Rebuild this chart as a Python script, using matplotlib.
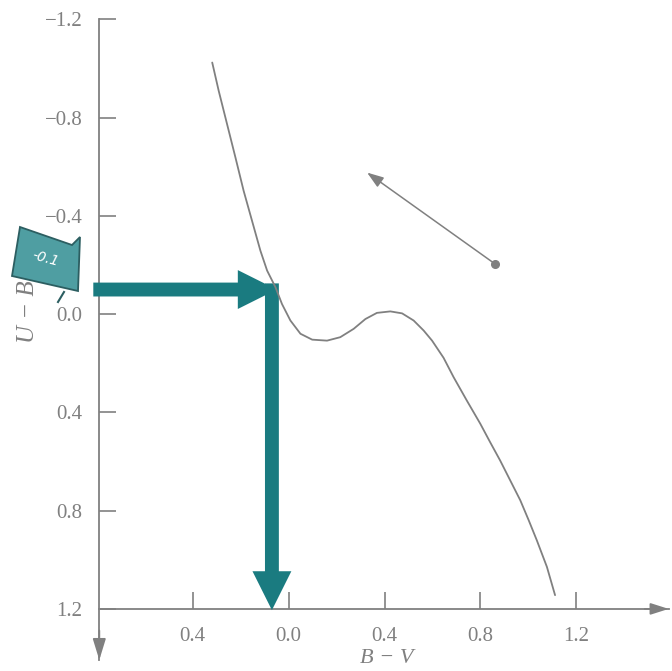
import matplotlib
matplotlib.use("Agg")
import matplotlib.pyplot as plt
from matplotlib.patches import FancyArrowPatch, Polygon, ArrowStyle

# ---- data ----
bv_curve = [-0.319, -0.292, -0.257, -0.222, -0.188, -0.153, -0.118, -0.090, -0.055,
            -0.028, 0.007, 0.049, 0.098, 0.160, 0.215, 0.271, 0.320, 0.368, 0.424,
            0.473, 0.521, 0.563, 0.598, 0.646, 0.688, 0.743, 0.799, 0.840, 0.882,
            0.924, 0.966, 1.001, 1.035, 1.077, 1.111]
ub_curve = [-1.024, -0.909, -0.773, -0.637, -0.502, -0.380, -0.258, -0.177, -0.109,
            -0.041, 0.026, 0.080, 0.104, 0.108, 0.094, 0.060, 0.020, -0.005, -0.011,
            -0.003, 0.026, 0.067, 0.108, 0.178, 0.257, 0.352, 0.446, 0.521, 0.596,
            0.677, 0.758, 0.839, 0.921, 1.029, 1.144]

redden_start = (0.861, -0.204)
redden_end = (0.327, -0.576)

ub_read = -0.1      # horizontal teal arrow level
bv_read = -0.07     # vertical teal arrow position
flag_text = "-0.1"

xticks = [-0.4, 0.0, 0.4, 0.8, 1.2]
xticklabels = ["0.4", "0.0", "0.4", "0.8", "1.2"]
yticks = [-1.2, -0.8, -0.4, 0.0, 0.4, 0.8, 1.2]
yticklabels = ["\u22121.2", "\u22120.8", "\u22120.4", "0.0", "0.4", "0.8", "1.2"]

x_min, x_max = -0.79, 1.585
y_top, y_bottom = -1.2, 1.408
x_axis_level = 1.2

grey = "#808080"
teal = "#1a7b80"
serif = ["Liberation Serif", "DejaVu Serif"]

W, H = 672, 671
fig = plt.figure(figsize=(W / 100, H / 100), dpi=100)
fig.patch.set_facecolor("white")
ax = fig.add_axes([99.3 / W, 1 - 660 / H, (668.7 - 99.3) / W, (660 - 19.3) / H])
ax.set_facecolor("white")
ax.set_xlim(x_min, x_max)
ax.set_ylim(y_bottom, y_top)

for s in ["top", "right"]:
    ax.spines[s].set_visible(False)
ax.spines["left"].set_color(grey)
ax.spines["left"].set_linewidth(1.3)
ax.spines["bottom"].set_position(("data", x_axis_level))
ax.spines["bottom"].set_color(grey)
ax.spines["bottom"].set_linewidth(1.3)

ax.set_xticks(xticks)
ax.set_xticklabels(xticklabels, fontfamily=serif)
ax.set_yticks(yticks)
ax.set_yticklabels(yticklabels, fontfamily=serif)
ax.tick_params(axis="both", direction="in", length=12, width=1.2, color=grey,
               labelcolor=grey, labelsize=15)
ax.tick_params(axis="y", pad=12)
ax.tick_params(axis="x", pad=13)

# axis arrow heads
ax.annotate("", xy=(x_max, x_axis_level), xytext=(x_max - 0.1, x_axis_level),
            arrowprops=dict(arrowstyle="-|>,head_length=1.1,head_width=0.35",
                            color=grey, lw=1.3, shrinkA=0, shrinkB=0))
ax.annotate("", xy=(x_min, y_bottom), xytext=(x_min, y_bottom - 0.12),
            arrowprops=dict(arrowstyle="-|>,head_length=1.3,head_width=0.4",
                            color=grey, lw=1.3, shrinkA=0, shrinkB=0))

# axis labels
ax.set_xlabel("B \u2212 V", fontfamily=serif, fontstyle="italic", fontsize=16, color=grey)
ax.xaxis.set_label_coords((0.41 - x_min) / (x_max - x_min), 0.003)
ax.xaxis.label.set_va("center")
ax.set_ylabel("U \u2212 B", fontfamily=serif, fontstyle="italic", fontsize=18, color=grey)
ax.yaxis.set_label_coords(-0.125, 1 - (-0.01 - y_top) / (y_bottom - y_top))
ax.yaxis.label.set_va("center")

# main-sequence curve
ax.plot(bv_curve, ub_curve, color=grey, lw=1.3, solid_capstyle="round",
        solid_joinstyle="round", zorder=3)

# reddening vector
ax.annotate("", xy=redden_end, xytext=redden_start,
            arrowprops=dict(arrowstyle="-|>,head_length=1.0,head_width=0.35",
                            color=grey, lw=1.1, shrinkA=0, shrinkB=0), zorder=3)
ax.plot([redden_start[0]], [redden_start[1]], "o", ms=5.5, color=grey, zorder=3)

# teal reading arrows
style = ArrowStyle.Simple(head_length=28, head_width=28, tail_width=10)
h_arrow = FancyArrowPatch((-0.815, ub_read), (bv_read + 0.02, ub_read),
                          arrowstyle=style, mutation_scale=1, color=teal,
                          lw=0, shrinkA=0, shrinkB=0, zorder=2.8)
h_arrow.set_clip_on(False)
ax.add_patch(h_arrow)
v_arrow = FancyArrowPatch((bv_read, ub_read - 0.025), (bv_read, x_axis_level + 0.005),
                          arrowstyle=style, mutation_scale=1, color=teal,
                          lw=0, shrinkA=0, shrinkB=0, zorder=2.8)
v_arrow.set_clip_on(False)
ax.add_patch(v_arrow)

# flag tag with value
def px(x, y):
    return (x / W, 1 - y / H)

flag = Polygon([px(20, 227), px(72, 245), px(80, 237), px(78, 291), px(12, 276)],
               closed=True, transform=fig.transFigure, facecolor="#4f9ea2",
               edgecolor="#2c5e61", lw=1.3, zorder=6, clip_on=False)
ax.add_patch(flag)
ax.plot([64 / W, 58 / W], [1 - 292 / H, 1 - 302 / H], transform=fig.transFigure,
        color="#2c5e61", lw=1.5, zorder=6, clip_on=False)
fig.text(46 / W, 1 - 259 / H, flag_text, color="white", fontsize=10, fontstyle="italic",
         rotation=-15, ha="center", va="center", zorder=7)

fig.savefig("out.png", dpi=100)
